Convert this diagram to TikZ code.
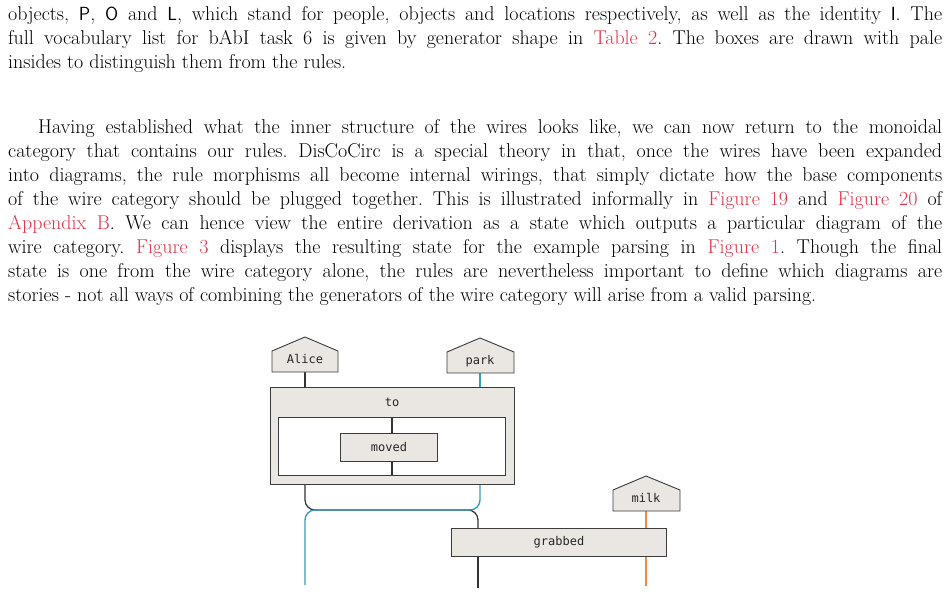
\documentclass[tikz,border=0pt]{standalone}
\usepackage{fontspec}
\newfontfamily\monof{DejaVu Sans Mono}
\definecolor{boxfill}{RGB}{234,230,225}
\definecolor{boxline}{RGB}{60,60,60}
\definecolor{wblue}{RGB}{58,156,184}
\definecolor{worange}{RGB}{240,138,48}
\definecolor{linkred}{RGB}{228,50,70}
\newcommand{\lk}[1]{\textcolor{linkred}{#1}}
\newcommand{\sfl}[1]{{\fontsize{19}{24}\selectfont\textsf{#1}}}
\begin{document}
\begin{tikzpicture}[x=1pt,y=-1pt,
  para/.style={anchor=north west,inner sep=0pt,text width=934pt,align=justify,font=\fontsize{20}{24}\selectfont\frenchspacing},
  gbox/.style={draw=boxline,fill=boxfill,line width=0.9pt,inner sep=0pt},
  lbl/.style={font=\monof\fontsize{12}{13}\selectfont,text=black!85,inner sep=0pt},
  wire/.style={line width=1.2pt,draw=black!80},
  bw/.style={line width=1.4pt,draw=wblue},
  ow/.style={line width=1.4pt,draw=worange}]
\useasboundingbox (0,0) rectangle (950,596);
\fill[white] (0,0) rectangle (950,596);
\node[para] (p1) at (8,6) {objects, \sfl{P}, \sfl{O} and \sfl{L}, which stand for people, objects and locations respectively, as well as the identity \sfl{I}. The\linebreak
full vocabulary list for bAbI task 6 is given by generator shape in \lk{Table 2}. The boxes are drawn with pale\linebreak
insides to distinguish them from the rules.};
\node[para] (p2) at (8,119) {\hspace*{30pt}Having established what the inner structure of the wires looks like, we can now return to the monoidal\linebreak
category that contains our rules. DisCoCirc is a special theory in that, once the wires have been expanded\linebreak
into diagrams, the rule morphisms all become internal wirings, that simply dictate how the base components\linebreak
of the wire category should be plugged together. This is illustrated informally in \lk{Figure 19} and \lk{Figure 20} of\linebreak
\lk{Appendix B}. We can hence view the entire derivation as a state which outputs a particular diagram of the\linebreak
wire category. \lk{Figure 3} displays the resulting state for the example parsing in \lk{Figure 1}. Though the final\linebreak
state is one from the wire category alone, the rules are nevertheless important to define which diagrams are\linebreak
stories - not all ways of combining the generators of the wire category will arise from a valid parsing.};
% wires
\draw[wire] (305,372) -- (305,387);
\draw[bw] (480,373) -- (480,387);
\draw[wire,rounded corners=10pt] (305,484) -- (305,510) -- (478,510) -- (478,528);
\draw[bw,rounded corners=10pt] (480,484) -- (480,510) -- (305,510) -- (305,585);
\draw[ow] (646,511) -- (646,528);
\draw[ow] (646,556) -- (646,586);
\draw[wire] (478,556) -- (478,588);
% houses
\draw[gbox] (272,372) -- (272,351) -- (305,337) -- (338,351) -- (338,372) -- cycle;
\node[lbl] (alice) at (305,359) {Alice};
\draw[gbox] (447,373) -- (447,352) -- (480,338) -- (514,352) -- (514,373) -- cycle;
\node[lbl] (park) at (480,361) {park};
\draw[gbox] (613,511) -- (613,490) -- (646,476) -- (680,490) -- (680,511) -- cycle;
\node[lbl] (milk) at (646,498) {milk};
% to box
\node[gbox,minimum width=244pt,minimum height=97pt,anchor=north west] (to) at (270,387) {};
\node[lbl] (tol) at (392,402) {to};
\node[draw=boxline,fill=white,line width=0.9pt,minimum width=227pt,minimum height=58pt,anchor=north west,inner sep=0pt] (inner) at (278,417) {};
\draw[wire] (392,417) -- (392,433);
\draw[wire] (392,461) -- (392,475);
\node[gbox,minimum width=97pt,minimum height=28pt,anchor=north west,lbl] (moved) at (340,433) {moved};
\node[gbox,minimum width=215pt,minimum height=28pt,anchor=north west,lbl] (grabbed) at (451,528) {grabbed};
\end{tikzpicture}
\end{document}
